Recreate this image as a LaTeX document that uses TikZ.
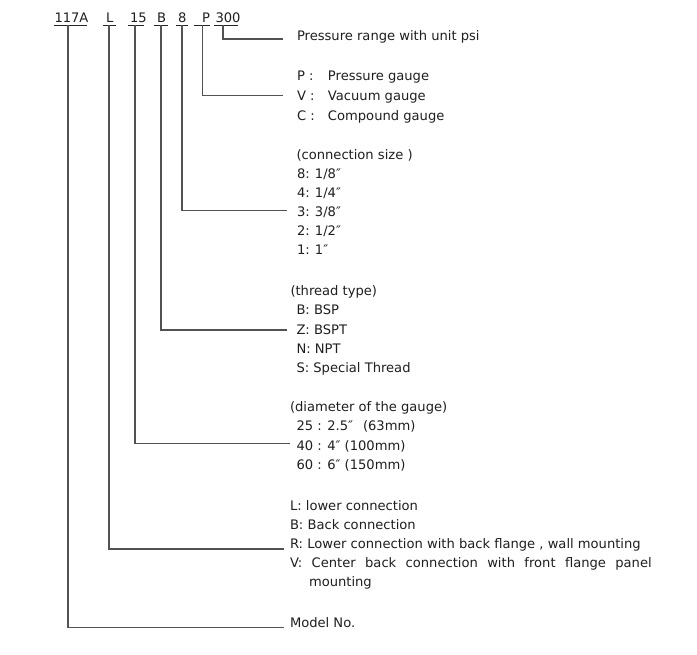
\documentclass[tikz,border=0pt]{standalone}
\usepackage{fontspec}
\setmainfont{DejaVu Sans}
\begin{document}
\begin{tikzpicture}[x=1pt,y=-1pt,
  txt/.style={anchor=base west,inner sep=0pt,outer sep=0pt,font=\fontsize{13.1}{14}\selectfont,text=black!88},
  conn/.style={line width=1.2pt,draw=black!68},
  uline/.style={line width=1.1pt,draw=black!85}]
\fill[white] (0,0) rectangle (697,655);
\useasboundingbox (0,0) rectangle (697,655);
% code letters
\node[txt] (c117) at (54.5,23) {117A};
\node[txt] (cL) at (106,23) {L};
\node[txt] (c15) at (130,23) {15};
\node[txt] (cB) at (157,23) {B};
\node[txt] (c8) at (178,23) {8};
\node[txt] (cP) at (202,23) {P};
\node[txt] (c300) at (215.5,23) {300};
% underlines
\draw[uline] (54,25.5) -- (87,25.5);
\draw[uline] (103,25.5) -- (116,25.5);
\draw[uline] (128,25.5) -- (143.5,25.5);
\draw[uline] (154,25.5) -- (168,25.5);
\draw[uline] (176,25.5) -- (188,25.5);
\draw[uline] (194,25.5) -- (209.5,25.5);
\draw[uline] (214,25.5) -- (237.5,25.5);
% connector tops
\coordinate (u117) at (68,25.5);
\coordinate (uL) at (109,25.5);
\coordinate (u15) at (135,25.5);
\coordinate (uB) at (161,25.5);
\coordinate (u8) at (182,25.5);
\coordinate (uP) at (202.5,25.5);
\coordinate (u300) at (223,25.5);
% connector ends
\coordinate (e300) at (283,39);
\coordinate (eP) at (283,95.5);
\coordinate (e8) at (287,210.5);
\coordinate (eB) at (287,330);
\coordinate (e15) at (290,443.5);
\coordinate (eL) at (284,549);
\coordinate (e117) at (284,627.5);
\draw[conn] (u300) |- (e300);
\draw[conn] (uP) |- (eP);
\draw[conn] (u8) |- (e8);
\draw[conn] (uB) |- (eB);
\draw[conn] (u15) |- (e15);
\draw[conn] (uL) |- (eL);
\draw[conn] (u117) |- (e117);
% pressure range
\node[txt] (t300) at (297,41) {Pressure range with unit psi};
% gauge type
\node[txt] (tP1) at (297,81) {\makebox[31pt][l]{P :}Pressure gauge};
\node[txt] (tP2) at (297,101) {\makebox[31pt][l]{V :}Vacuum gauge};
\node[txt] (tP3) at (297,120.7) {\makebox[31pt][l]{C :}Compound gauge};
% connection size
\node[txt] (t8h) at (296.5,159.3) {(connection size )};
\node[txt] (t81) at (297,178.7) {\makebox[18pt][l]{8:}1/8″};
\node[txt] (t82) at (297,197.7) {\makebox[18pt][l]{4:}1/4″};
\node[txt] (t83) at (297,216.7) {\makebox[18pt][l]{3:}3/8″};
\node[txt] (t84) at (297,235.9) {\makebox[18pt][l]{2:}1/2″};
\node[txt] (t85) at (297,255) {\makebox[18pt][l]{1:}1″};
% thread type
\node[txt] (tBh) at (290.5,296) {(thread type)};
\node[txt] (tB1) at (296.5,315) {B: BSP};
\node[txt] (tB2) at (296.5,334.5) {Z: BSPT};
\node[txt] (tB3) at (296.5,353.8) {N: NPT};
\node[txt] (tB4) at (296.5,373) {S: Special Thread};
% diameter
\node[txt] (t15h) at (290,412) {(diameter of the gauge)};
\node[txt] (t151) at (296.5,431) {25 : 2.5″\hspace{10pt}(63mm)};
\node[txt] (t152) at (296.5,450) {40 : 4″ (100mm)};
\node[txt] (t153) at (296.5,469) {60 : 6″ (150mm)};
% mounting
\node[txt] (tL1) at (290,510) {L: lower connection};
\node[txt] (tL2) at (290,529.3) {B: Back connection};
\node[txt] (tL3) at (290,548.5) {R: Lower connection with back flange , wall mounting};
\node[txt] (tL4) at (290,567.7) {\makebox[361.7pt][s]{V: Center back connection with front flange panel}};
\node[txt] (tL5) at (309,586.9) {mounting};
% model
\node[txt] (t117) at (290,627.3) {Model No.};
\end{tikzpicture}
\end{document}
